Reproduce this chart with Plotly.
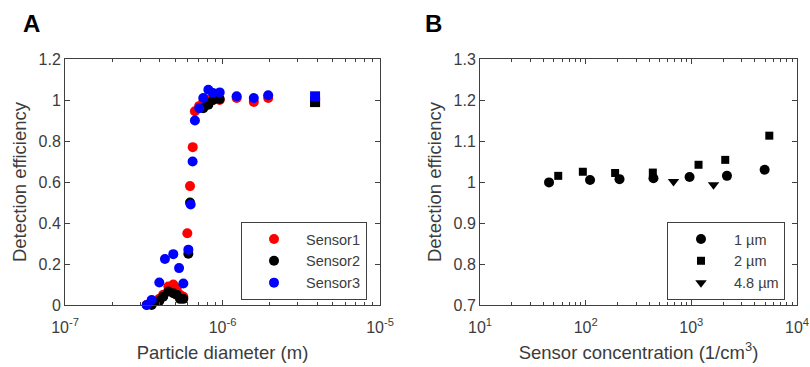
import plotly.graph_objects as go

# ---------- Panel A data ----------
s1_d = [3.30e-7, 3.55e-7, 3.97e-7, 4.20e-7, 4.53e-7, 4.87e-7, 5.12e-7, 5.37e-7, 5.64e-7,
        5.98e-7, 6.22e-7, 6.47e-7, 6.68e-7, 7.10e-7, 7.55e-7, 8.10e-7, 8.70e-7, 9.60e-7,
        1.23e-6, 1.58e-6, 1.95e-6, 3.87e-6]
s1_e = [0.0, 0.02, 0.03, 0.05, 0.09, 0.10, 0.08, 0.05, 0.04,
        0.35, 0.58, 0.77, 0.945, 0.97, 0.99, 1.00, 1.00, 1.00,
        1.01, 0.99, 1.01, 0.99]

s2_d = [3.55e-7, 3.97e-7, 4.20e-7, 4.53e-7, 4.87e-7, 5.12e-7, 5.37e-7, 5.64e-7,
        6.07e-7, 6.22e-7, 7.55e-7, 8.13e-7, 8.70e-7, 9.60e-7, 3.87e-6]
s2_e = [0.0, 0.02, 0.04, 0.066, 0.057, 0.05, 0.03, 0.03,
        0.25, 0.50, 0.96, 0.977, 1.00, 1.005, 0.99]

s3_d = [3.30e-7, 3.55e-7, 3.97e-7, 4.31e-7, 4.87e-7, 5.30e-7, 5.64e-7, 6.07e-7,
        6.28e-7, 6.46e-7, 6.68e-7, 7.12e-7, 7.55e-7, 8.13e-7, 8.70e-7, 9.60e-7,
        1.23e-6, 1.58e-6, 1.95e-6, 3.87e-6]
s3_e = [0.0, 0.024, 0.11, 0.224, 0.248, 0.18, 0.105, 0.27,
        0.49, 0.70, 0.90, 0.96, 1.01, 1.05, 1.034, 1.037,
        1.018, 1.01, 1.023, 1.018]

# ---------- Panel B data ----------
c1_x = [45, 110, 209, 438, 962, 2173, 4940]
c1_y = [0.999, 1.005, 1.007, 1.009, 1.012, 1.015, 1.030]
c2_x = [55, 94, 190, 432, 1170, 2094, 5470]
c2_y = [1.015, 1.025, 1.022, 1.023, 1.042, 1.054, 1.113]
c3_x = [678, 1622]
c3_y = [1.001, 0.993]

xa_ticks = [1e-7, 1e-6, 1e-5]
xa_text = ["10<sup>-7</sup>", "10<sup>-6</sup>", "10<sup>-5</sup>"]
xa_minor = [m * 10.0 ** e for e in (-7, -6) for m in range(2, 10)]
xb_ticks = [10, 100, 1000, 10000]
xb_text = ["10<sup>1</sup>", "10<sup>2</sup>", "10<sup>3</sup>", "10<sup>4</sup>"]
xb_minor = [m * 10.0 ** e for e in (1, 2, 3) for m in range(2, 10)]

FONT = "Liberation Sans, Arial, sans-serif"
AX = "#404040"
TXT = "#3c3c3c"
TICK_SIZE = 16
TITLE_SIZE = 18.5

def sym_list(d):
    return ["square" if v > 3e-6 else "circle" for v in d]

fig = go.Figure()
fig.add_trace(go.Scatter(x=s1_d, y=s1_e, mode="markers", name="Sensor1",
                         marker=dict(color="#ff0000", size=10, symbol=sym_list(s1_d)),
                         cliponaxis=False, xaxis="x", yaxis="y", legend="legend"))
fig.add_trace(go.Scatter(x=s2_d, y=s2_e, mode="markers", name="Sensor2",
                         marker=dict(color="#000000", size=10, symbol=sym_list(s2_d)),
                         cliponaxis=False, xaxis="x", yaxis="y", legend="legend"))
fig.add_trace(go.Scatter(x=s3_d, y=s3_e, mode="markers", name="Sensor3",
                         marker=dict(color="#0000ff", size=10, symbol=sym_list(s3_d)),
                         cliponaxis=False, xaxis="x", yaxis="y", legend="legend"))

fig.add_trace(go.Scatter(x=c1_x, y=c1_y, mode="markers", name="1 µm",
                         marker=dict(color="#000000", size=10, symbol="circle"),
                         cliponaxis=False, xaxis="x2", yaxis="y2", legend="legend2"))
fig.add_trace(go.Scatter(x=c2_x, y=c2_y, mode="markers", name="2 µm",
                         marker=dict(color="#000000", size=8, symbol="square"),
                         cliponaxis=False, xaxis="x2", yaxis="y2", legend="legend2"))
fig.add_trace(go.Scatter(x=c3_x, y=c3_y, mode="markers", name="4.8 µm",
                         marker=dict(color="#000000", size=10, symbol="triangle-down"),
                         cliponaxis=False, xaxis="x2", yaxis="y2", legend="legend2"))

common_axis = dict(showline=True, linecolor=AX, linewidth=1, mirror="allticks",
                   ticks="inside", ticklen=5, tickcolor=AX, showgrid=False, zeroline=False,
                   automargin=False,
                   tickfont=dict(family=FONT, size=TICK_SIZE, color=TXT))

fig.update_layout(
    template="none",
    width=810, height=367, margin=dict(l=0, r=0, t=0, b=0),
    paper_bgcolor="white", plot_bgcolor="white",
    font=dict(family=FONT, color=TXT),
    xaxis=dict(type="log", range=[-7, -5], domain=[65/810, 380/810], anchor="y",
               tickvals=xa_ticks, ticktext=xa_text, ticklabelstandoff=8,
               minor=dict(ticks="inside", ticklen=3, tickcolor=AX, tickmode="array", tickvals=xa_minor),
               title=dict(text="Particle diameter (m)", font=dict(size=TITLE_SIZE, color=TXT), standoff=10),
               **common_axis),
    yaxis=dict(range=[0, 1.2], domain=[1 - 305/367, 1 - 59/367], anchor="x",
               tickvals=[0, 0.2, 0.4, 0.6, 0.8, 1.0, 1.2],
               ticktext=["0", "0.2", "0.4", "0.6", "0.8", "1", "1.2"],
               title=dict(text="Detection efficiency", font=dict(size=TITLE_SIZE, color=TXT), standoff=7),
               **common_axis),
    xaxis2=dict(type="log", range=[1, 4], domain=[480/810, 797/810], anchor="y2",
                tickvals=xb_ticks, ticktext=xb_text, ticklabelstandoff=8,
                minor=dict(ticks="inside", ticklen=3, tickcolor=AX, tickmode="array", tickvals=xb_minor),
                title=dict(text="Sensor concentration (1/cm<sup>3</sup>)", font=dict(size=TITLE_SIZE, color=TXT), standoff=10),
                **common_axis),
    yaxis2=dict(range=[0.7, 1.3], domain=[1 - 305/367, 1 - 59/367], anchor="x2",
                tickvals=[0.7, 0.8, 0.9, 1.0, 1.1, 1.2, 1.3],
                ticktext=["0.7", "0.8", "0.9", "1", "1.1", "1.2", "1.3"],
                title=dict(text="Detection efficiency", font=dict(size=TITLE_SIZE, color=TXT), standoff=7),
                **common_axis),
    legend=dict(x=241/810, y=1 - 222/367, xanchor="left", yanchor="top",
                bordercolor=AX, borderwidth=1, bgcolor="white", itemwidth=54,
                font=dict(family=FONT, size=14.5, color=TXT), tracegroupgap=0),
    legend2=dict(x=667/810, y=1 - 222/367, xanchor="left", yanchor="top",
                 bordercolor=AX, borderwidth=1, bgcolor="white", itemwidth=56,
                 font=dict(family=FONT, size=14.5, color=TXT), tracegroupgap=0),
    annotations=[
        dict(text="<b>A</b>", x=31/810, y=1 - 24/367, xref="paper", yref="paper",
             xanchor="center", yanchor="middle",
             showarrow=False, font=dict(family=FONT, size=24, color="#000000")),
        dict(text="<b>B</b>", x=434/810, y=1 - 24/367, xref="paper", yref="paper",
             xanchor="center", yanchor="middle",
             showarrow=False, font=dict(family=FONT, size=24, color="#000000")),
    ],
)

fig.write_html("out.html")
